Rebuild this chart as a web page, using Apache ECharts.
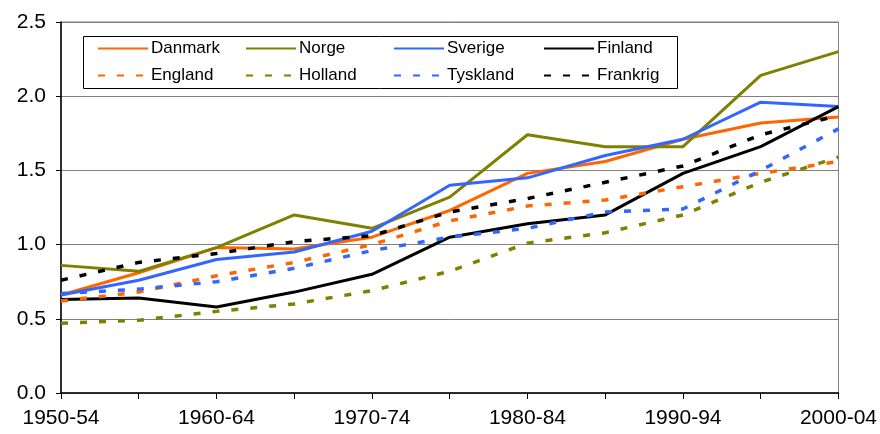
<!DOCTYPE html>
<html>
<head>
<meta charset="utf-8">
<script src="https://cdn.jsdelivr.net/npm/echarts@6/dist/echarts.min.js"></script>
<style>
  html, body { margin: 0; padding: 0; background: #fff; }
  #chart { width: 880px; height: 434px; }
</style>
</head>
<body>
<div id="chart"></div>
<script>
// periods on x axis
var periods = ['1950-54', '1955-59', '1960-64', '1965-69', '1970-74', '1975-79',
  '1980-84', '1985-89', '1990-94', '1995-99', '2000-04']

// values
var danmark = [0.66, 0.81, 0.98, 0.97, 1.05, 1.23, 1.48, 1.56, 1.71, 1.82, 1.86]
var norge = [0.86, 0.82, 0.98, 1.20, 1.11, 1.32, 1.74, 1.66, 1.66, 2.14, 2.30]
var sverige = [0.66, 0.76, 0.90, 0.95, 1.09, 1.40, 1.45, 1.60, 1.71, 1.96, 1.93]
var finland = [0.63, 0.64, 0.58, 0.68, 0.80, 1.05, 1.14, 1.20, 1.48, 1.66, 1.93]
var england = [0.62, 0.68, 0.79, 0.88, 1.00, 1.16, 1.26, 1.30, 1.39, 1.48, 1.56]
var holland = [0.47, 0.49, 0.55, 0.60, 0.69, 0.82, 1.01, 1.08, 1.20, 1.42, 1.59]
var tyskland = [0.67, 0.70, 0.75, 0.84, 0.96, 1.05, 1.11, 1.22, 1.24, 1.50, 1.78]
var frankrig = [0.76, 0.88, 0.94, 1.02, 1.06, 1.22, 1.31, 1.42, 1.53, 1.74, 1.87]

var orange = '#FF6600'
var olive = '#808000'
var blue = '#3366FF'
var black = '#000000'
var dots = [7, 12]

function solid(name, data, color) {
  return {
    name: name, type: 'line', data: data, symbol: 'none',
    itemStyle: { color: color },
    lineStyle: { color: color, width: 3 },
    animation: false
  }
}
function dotted(name, data, color) {
  return {
    name: name, type: 'line', data: data, symbol: 'none',
    itemStyle: { color: color },
    lineStyle: { color: color, width: 3.5, type: dots },
    animation: false
  }
}

function column(left, names) {
  return {
    orient: 'vertical', left: left, top: 40, z: 10,
    itemWidth: 50, itemHeight: 14, itemGap: 10,
    padding: 0,
    itemStyle: { opacity: 0 },
    textStyle: { fontFamily: 'Liberation Sans', fontSize: 17, color: '#000', padding: [0, 0, 0, -2] },
    data: names
  }
}

var chart = echarts.init(document.getElementById('chart'))
chart.setOption({
  backgroundColor: '#fff',
  grid: {
    left: 61, right: 40, top: 22, bottom: 41,
    show: true, borderColor: '#808080', borderWidth: 1
  },
  graphic: [{
    type: 'rect', left: 83, top: 36, z: 3,
    shape: { width: 594, height: 52 },
    style: { fill: '#fff', stroke: '#000', lineWidth: 1 }
  }],
  legend: [
    column(97, ['Danmark', 'England']),
    column(245, ['Norge', 'Holland']),
    column(393, ['Sverige', 'Tyskland']),
    column(543, ['Finland', 'Frankrig'])
  ],
  xAxis: {
    type: 'category',
    data: periods,
    boundaryGap: false,
    axisLine: { lineStyle: { color: '#000', width: 1.5 } },
    axisTick: { show: true, interval: 0, length: 6, lineStyle: { color: '#000' } },
    axisLabel: {
      interval: 1, margin: 15,
      fontFamily: 'Liberation Sans', fontSize: 21, color: '#000'
    },
    splitLine: { show: false }
  },
  yAxis: {
    type: 'value',
    min: 0, max: 2.5, interval: 0.5,
    axisLine: { show: true, lineStyle: { color: '#000', width: 1.5 } },
    axisTick: { show: true, length: 5, lineStyle: { color: '#000' } },
    axisLabel: {
      margin: 15,
      formatter: function (v) { return v.toFixed(1) },
      fontFamily: 'Liberation Sans', fontSize: 21, color: '#000'
    },
    splitLine: { show: true, lineStyle: { color: '#808080', width: 1 } }
  },
  series: [
    solid('Danmark', danmark, orange),
    solid('Norge', norge, olive),
    solid('Sverige', sverige, blue),
    solid('Finland', finland, black),
    dotted('England', england, orange),
    dotted('Holland', holland, olive),
    dotted('Tyskland', tyskland, blue),
    dotted('Frankrig', frankrig, black)
  ]
})
</script>
</body>
</html>
